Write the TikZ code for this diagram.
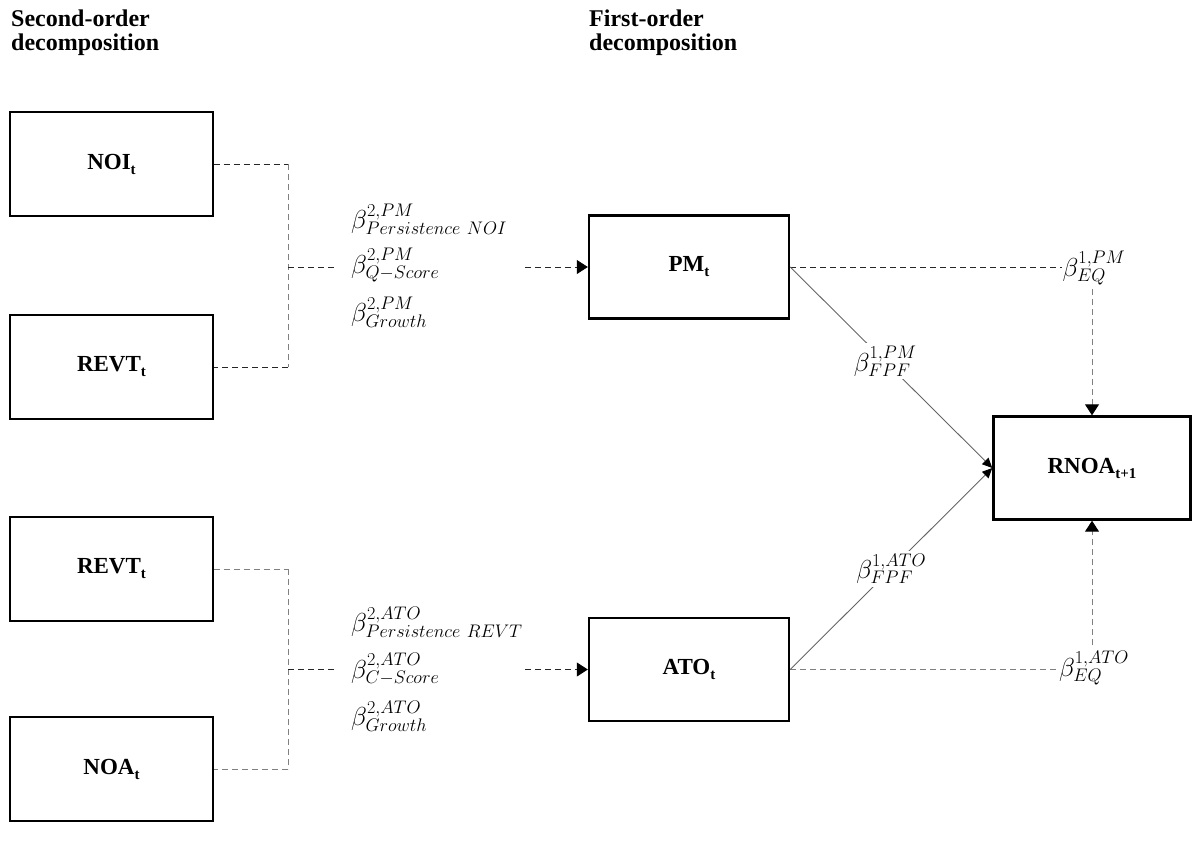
\RequirePackage{fix-cm}
\documentclass[tikz,border=0pt]{standalone}
\usepackage{fontspec}
\setmainfont{Liberation Serif}
\usetikzlibrary{arrows.meta}
\newcommand\sbt[1]{\raisebox{-0.22em}{\fontsize{15}{15}\selectfont #1}}
\begin{document}
\begin{tikzpicture}[x=1pt,y=-1pt,
  lbox/.style={draw, line width=1.4pt, minimum width=203pt, minimum height=104pt, inner sep=0pt, font=\fontsize{23}{26}\selectfont\bfseries},
  rbox/.style={draw, line width=2.4pt, minimum width=200pt, minimum height=103pt, inner sep=0pt, font=\fontsize{23}{26}\selectfont\bfseries},
  coef/.style={font=\fontsize{26}{30}\selectfont, inner sep=0pt},
  dk/.style={draw=black!85, line width=0.8pt, dash pattern=on 6pt off 4pt},
  gy/.style={draw=black!50, line width=1pt, dash pattern=on 6pt off 4pt},
  sl/.style={draw=black!60, line width=0.9pt},
  tip/.style={-{Triangle[width=14pt,length=11pt,color=black]}},
  stip/.style={-{Triangle[width=9pt,length=10pt,color=black]}},
  hdr/.style={font=\fontsize{24}{23.5}\selectfont\bfseries, align=left, anchor=north west, inner sep=0pt}
]
\useasboundingbox (0,0) rectangle (1192,841);
\node[hdr] (h2) at (11,10) {Second-order\\decomposition};
\node[hdr] (h1) at (589,10) {First-order\\decomposition};

\node[lbox] (noi) at (111.5,164) {NOI\sbt{t}};
\node[lbox] (revt1) at (111.5,367) {REVT\sbt{t}};
\node[lbox] (revt2) at (111.5,569) {REVT\sbt{t}};
\node[lbox] (noa) at (111.5,769) {NOA\sbt{t}};
\node[rbox] (pm) at (689,267) {PM\sbt{t}};
\node[rbox] (ato) at (689,669.5) {ATO\sbt{t}};
\node[rbox, minimum width=197pt] (rnoa) at (1092,468) {RNOA\sbt{t+1}};

% top-left junction
\coordinate (j1) at (288,267);
\coordinate (m1) at (335,267);
\coordinate (a1) at (525,267);
\draw[dk] (noi.east) -- (noi.east -| j1);
\draw[gy] (noi.east -| j1) -- (revt1.east -| j1);
\draw[dk] (revt1.east -| j1) -- (revt1.east);
\draw[dk] (j1) -- (m1);
\draw[dk,tip] (a1) -- (pm.west);
\node[coef, anchor=west] (b1) at (351,219) {$\beta^{2,PM}_{Persistence\ NOI}$};
\node[coef, anchor=west] (b2) at (351,265) {$\beta^{2,PM}_{Q-Score}$};
\node[coef, anchor=west] (b3) at (351,312) {$\beta^{2,PM}_{Growth}$};

% bottom-left junction
\coordinate (j2) at (288,669.5);
\coordinate (m2) at (335,669.5);
\coordinate (a2) at (525,669.5);
\draw[gy] (revt2.east) -- (revt2.east -| j2);
\draw[gy] (revt2.east -| j2) -- (noa.east -| j2);
\draw[gy] (noa.east -| j2) -- (noa.east);
\draw[dk] (j2) -- (m2);
\draw[dk,tip] (a2) -- (ato.west);
\node[coef, anchor=west] (c1) at (351,622) {$\beta^{2,ATO}_{Persistence\ REVT}$};
\node[coef, anchor=west] (c2) at (351,669) {$\beta^{2,ATO}_{C-Score}$};
\node[coef, anchor=west] (c3) at (351,716) {$\beta^{2,ATO}_{Growth}$};

% EQ paths
\node[coef] (eq1) at (1094,268) {$\beta^{1,PM}_{EQ}$};
\draw[dk] (pm.east) -- (pm.east -| eq1.west);
\draw[gy,tip] (rnoa.north |- eq1.south) ++(0,4) -- (rnoa.north);
\node[coef] (eq2) at (1094,668) {$\beta^{1,ATO}_{EQ}$};
\draw[gy] (ato.east) -- (ato.east -| eq2.west);
\draw[gy,tip] (rnoa.south |- eq2.north) ++(0,-6) -- (rnoa.south);

% FPF paths
\draw[sl,stip] (pm.east) -- node[coef, fill=white, inner sep=3pt, pos=0.47] (f1) {$\beta^{1,PM}_{FPF}$} (rnoa.west);
\draw[sl,stip] (ato.east) -- node[coef, fill=white, inner sep=3pt, pos=0.5] (f2) {$\beta^{1,ATO}_{FPF}$} (rnoa.west);
\end{tikzpicture}
\end{document}
